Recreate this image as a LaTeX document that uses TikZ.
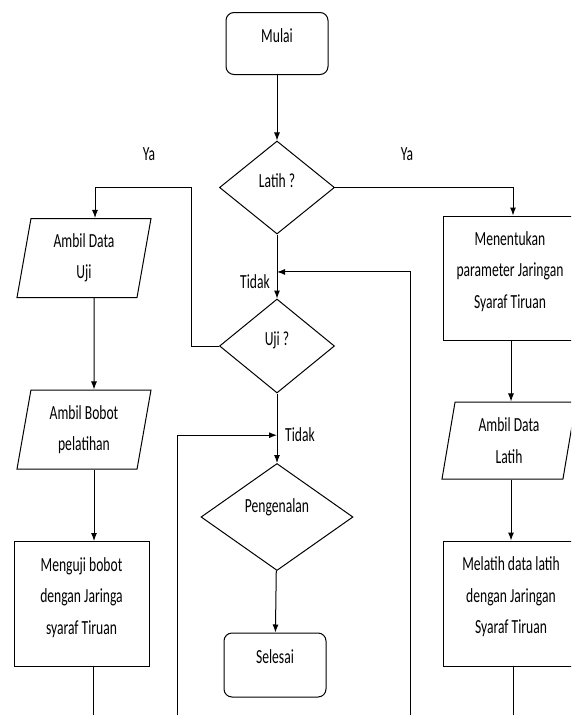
\documentclass[tikz,border=0pt]{standalone}
\usepackage{fontspec}
\setmainfont{Carlito}[FakeStretch=0.68]
\usetikzlibrary{%
  arrows.meta,%
  calc,%
  shapes.geometric%
}
\tikzset{>={Latex[length=8pt,width=6pt]},%
  teks/.style={font=\fontsize{20}{31.5}\selectfont,align=center},%
  naik/.style={execute at end node={\rule[-#1]{0pt}{#1}}},%
  terminal/.style={teks,naik=16pt,draw,line width=1pt,rounded corners=8pt,
    minimum width=102pt,minimum height=62pt,inner sep=0pt},%
  decision/.style={teks,naik=14pt,draw,line width=1pt,diamond,inner sep=0pt},%
  datain/.style={teks,draw,line width=1pt,trapezium,trapezium left angle=74,
    trapezium right angle=106,trapezium stretches body,
    minimum width=134pt,minimum height=79pt,inner sep=0pt},%
  proses/.style={teks,naik=16pt,draw,line width=1pt,rectangle,
    minimum width=135pt,minimum height=125pt,inner sep=0pt},%
  lbl/.style={teks,inner sep=0pt}}

\begin{document}
\begin{tikzpicture}[x=1pt,y=-1pt,line width=1pt]
  \useasboundingbox (0,0) rectangle (571,715);
  \clip (0,0) rectangle (571,715);
  \node[terminal] (mulai) at (277,43.5) {Mulai};
  \node[decision,minimum width=115pt,minimum height=93pt] (latih) at (277,187.5) {Latih ?};
  \node[decision,minimum width=152pt,minimum height=107pt,naik=22pt] (kenal) at (277,517) {Pengenalan};
  \node[decision,minimum width=115pt,minimum height=94pt] (uji) at (277,346) {Uji ?};
  \node[terminal,minimum height=64pt] (selesai) at (275,665) {Selesai};
  \node[datain] (ujidata) at (84,258) {Ambil Data\\Uji};
  \node[datain] (bobot) at (84,429.5) {Ambil Bobot\\pelatihan};
  \node[proses] (menguji) at (81.5,604) {Menguji bobot\\dengan Jaringa\\syaraf Tiruan};
  \node[proses,minimum width=133pt,minimum height=124pt] (tentukan) at (510,278) {Menentukan\\parameter Jaringan\\Syaraf Tiruan};
  \node[datain,minimum height=77pt] (latihdata) at (509,440.5) {Ambil Data\\Latih};
  \node[proses] (melatih) at (511,603.5) {Melatih data latih\\dengan Jaringan\\Syaraf Tiruan};
  \node[lbl] (ya1) at (149,154) {Ya};
  \node[lbl] (ya2) at (407,154) {Ya};
  \node[lbl] (tidak1) at (255,282) {Tidak};
  \node[lbl] (tidak2) at (300,435) {Tidak};
  \coordinate (masuk1) at ($(latih.south)!0.585!(uji.north)$);
  \coordinate (masuk2) at ($(uji.south)!0.6!(kenal.north)$);
  \draw[->] (mulai) -- (latih);
  \draw[->] (latih) -- (uji);
  \draw[->] (uji) -- (kenal);
  \draw[->] (kenal) -- (selesai);
  \draw[->] (latih.east) -| ([xshift=3pt]tentukan.north);
  \draw[->] (uji.west) -- ++(-28,0) coordinate (k1) -- (k1 |- latih.west)
    -| ([xshift=11pt]ujidata.north);
  \draw[->] ([xshift=10pt]ujidata.south) -- ([xshift=10pt]bobot.north);
  \draw[->] ([xshift=10pt]bobot.south) -- ([xshift=10pt]bobot.south |- menguji.north);
  \draw[->] ([xshift=1pt]tentukan.south) -- ([xshift=1pt]tentukan.south |- latihdata.north);
  \draw[->] ([xshift=2pt]latihdata.south) -- ([xshift=2pt]latihdata.south |- melatih.north);
  \draw[->] ([xshift=12pt]menguji.south) -- ++(0,60) -| ([xshift=-100pt]masuk2) -- (masuk2);
  \draw[->] ([xshift=2pt]melatih.south) -- ++(0,60) -| ([xshift=133pt]masuk1) -- (masuk1);
\end{tikzpicture}
\end{document}
